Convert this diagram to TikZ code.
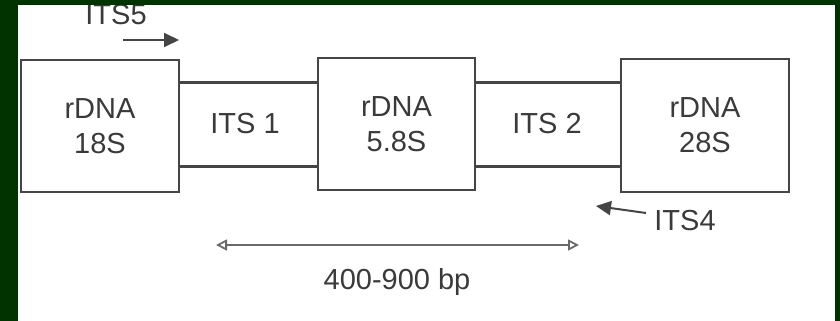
\documentclass[tikz,border=0pt]{standalone}
\usepackage{fontspec}
\setmainfont{Liberation Sans}
\usetikzlibrary{arrows.meta}
\definecolor{bordergreen}{HTML}{003300}
\definecolor{linegray}{HTML}{454545}
\definecolor{textgray}{HTML}{3A3A3A}
\begin{document}
\begin{tikzpicture}[x=0.5pt,y=-0.5pt,
  lbl/.style={font=\fontsize{14.5pt}{17.5pt}\selectfont, text=textgray, align=center, inner sep=0pt},
  rbox/.style={draw=linegray, line width=1.4pt, fill=white, inner sep=0pt, lbl},
  band/.style={inner sep=0pt, lbl},
  bandline/.style={draw=linegray, line width=1.4pt},
  primer/.style={draw=linegray, line width=1pt, -{Triangle[length=7.5pt,width=7pt]}},
  span/.style={draw=linegray!80, line width=0.9pt, {Triangle[open,length=5.5pt,width=5.5pt]}-{Triangle[open,length=5.5pt,width=5.5pt]}}
]
\useasboundingbox (0,0) rectangle (840,321);
\fill[bordergreen] (0,0) rectangle (840,321);
\fill[white] (18,5) rectangle (835,321);

\node[band, minimum width=69.5pt, minimum height=41.5pt] (its1) at (248.5,124.5) {};
\node[band, minimum width=73pt, minimum height=41.5pt] (its2) at (548,124.5) {};
\draw[bandline] (its1.north west) -- (its1.north east);
\draw[bandline] (its1.south west) -- (its1.south east);
\draw[bandline] (its2.north west) -- (its2.north east);
\draw[bandline] (its2.south west) -- (its2.south east);
\node[lbl] (its1t) at (245,124) {ITS 1};
\node[lbl] (its2t) at (547,124) {ITS 2};

\node[rbox, minimum width=79pt, minimum height=66pt] (b18) at (100,126) {rDNA\\18S};
\node[rbox, minimum width=78.5pt, minimum height=66pt] (b58) at (396.5,124) {rDNA\\5.8S};
\node[rbox, minimum width=84pt, minimum height=66.5pt] (b28) at (705,125.5) {rDNA\\28S};

\begin{scope}
\clip (18,5) rectangle (835,321);
\node[lbl] (its5) at (116,15) {ITS5};
\end{scope}
\coordinate (its5a) at (123,40);
\coordinate (its5b) at (179,40);
\draw[primer] (its5a) -- (its5b);

\node[lbl] (its4) at (685,221) {ITS4};
\coordinate (its4a) at (646,213);
\coordinate (its4b) at (596,206);
\draw[primer] (its4a) -- (its4b);

\coordinate (spa) at (216,245);
\coordinate (spb) at (579,245);
\draw[span] (spa) -- (spb);
\node[lbl] (bp) at (397,282) {400-900 bp};
\end{tikzpicture}
\end{document}
